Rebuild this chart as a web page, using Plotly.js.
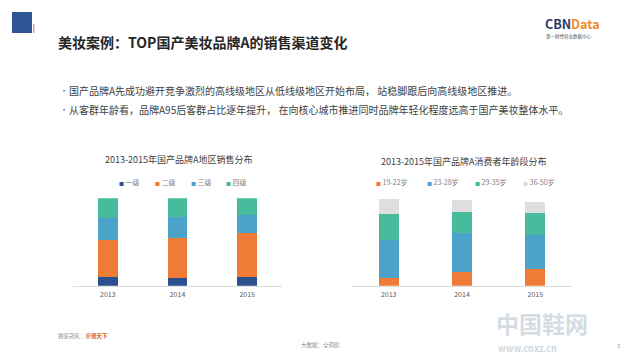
<!DOCTYPE html>
<html>
<head>
<meta charset="utf-8">
<script src="https://cdn.plot.ly/plotly-3.0.1.min.js"></script>
<style>
html,body{margin:0;padding:0;background:#fff;}
#chart{width:620px;height:359px;}
</style>
</head>
<body>
<div id="chart"></div>
<script>
// ---- data ----
const years = ['2013', '2014', '2015'];

const regionNames = ['一级', '二级', '三级', '四级'];
const regionTier1 = [10, 9.2, 9.5];
const regionTier2 = [42, 45.8, 51];
const regionTier3 = [25, 24, 20];
const regionTier4 = [23, 21, 19.5];

const ageNames = ['19-22岁', '23-28岁', '29-35岁', '36-50岁'];
const age19to22 = [8.4, 16, 19.1];
const age23to28 = [43.9, 43.9, 38.9];
const age29to35 = [29.8, 24.8, 25.6];
const age36to50 = [17.2, 13.4, 12.6];

const leftTitle = '2013-2015年国产品牌A地区销售分布';
const rightTitle = '2013-2015年国产品牌A消费者年龄段分布';
const pageTitle = '美妆案例：TOP国产美妆品牌A的销售渠道变化';
const bullets = [
  '国产品牌A先成功避开竞争激烈的高线级地区从低线级地区开始布局， 站稳脚跟后向高线级地区推进。',
  '从客群年龄看，品牌A95后客群占比逐年提升， 在向核心城市推进同时品牌年轻化程度远高于国产美妆整体水平。'
];

// ---- styles ----
const W = 620, H = 359;
const px = v => v / W;
const py = v => 1 - v / H;
const FONT = '"Noto Sans CJK SC", "Noto Sans", sans-serif';

const regionColors = ['#2c4f8e', '#ee7b36', '#4ba3c9', '#47bc9d'];
const ageColors = ['#ee7b36', '#4ba3c9', '#47bc9d', '#dedede'];

const regionSeries = [regionTier1, regionTier2, regionTier3, regionTier4];
const ageSeries = [age19to22, age23to28, age29to35, age36to50];

const traces = [];
regionSeries.forEach((vals, i) => {
  traces.push({
    type: 'bar', x: years, y: vals, name: regionNames[i],
    xaxis: 'x', yaxis: 'y', width: 0.285,
    marker: {color: regionColors[i], line: {width: 0}},
    showlegend: false, hoverinfo: 'skip'
  });
});
ageSeries.forEach((vals, i) => {
  traces.push({
    type: 'bar', x: years, y: vals, name: ageNames[i],
    xaxis: 'x2', yaxis: 'y2', width: 0.275,
    marker: {color: ageColors[i], line: {width: 0}},
    showlegend: false, hoverinfo: 'skip'
  });
});

const yDom = [py(285.7), py(198.3)];
const xAxisStyle = {
  type: 'category', showgrid: false, zeroline: false,
  showline: true, linecolor: '#dcdcdc', linewidth: 1,
  ticks: '', tickfont: {family: FONT, size: 7, color: '#595959'},
  ticklabelstandoff: 2,
  fixedrange: true
};
const yAxisStyle = {
  range: [0, 100], domain: yDom, visible: false, fixedrange: true
};

const annotations = [];
function txt(x, y, text, size, color, opts) {
  annotations.push(Object.assign({
    xref: 'paper', yref: 'paper', x: px(x), y: py(y), text: text,
    showarrow: false, xanchor: 'left', yanchor: 'middle',
    font: {family: FONT, size: size, color: color}, borderpad: 0
  }, opts || {}));
}

// page title & bullets
txt(57, 41.7, '<b>' + pageTitle + '</b>', 14, '#262626');
bullets.forEach((b, i) => {
  const y = [91, 109.3][i];
  txt(58.5, y, '•', 8, '#555555');
  txt(68, y, b, 10, '#404040');
});

// chart titles
txt(179, 160, leftTitle, 9, '#404040', {xanchor: 'center'});
txt(464, 161.7, rightTitle, 9, '#404040', {xanchor: 'center'});

// legends (built from names / colours)
const leftLegX = [118, 154, 189.5, 224.5];
regionNames.forEach((n, i) => {
  txt(leftLegX[i], 181.7,
    '<span style="font-size:5px;color:' + regionColors[i] + '">■</span> ' + n,
    7, '#7f7f7f');
});
const rightLegX = [374.5, 425.5, 473.5, 521.5];
ageNames.forEach((n, i) => {
  txt(rightLegX[i], 181.7,
    '<span style="font-size:5px;color:' + ageColors[i] + '">■</span> ' + n,
    7, '#7f7f7f');
});

// logo
txt(544, 24, '<b><span style="color:#2b3a6a">CBN</span><span style="color:#f08a24">Data</span></b>', 12.5, '#2b3a6a');
txt(545, 36, '第一财经商业数据中心', 4.5, '#555555');

// footer
txt(57, 336, '独家冠名：<span style="color:#d2691e"><b>@观天下</b></span>', 5.5, '#8a8a8a');
txt(320, 345, '大数据：全洞察', 5.5, '#8a8a8a', {xanchor: 'center'});
txt(616, 345, '3', 5, '#8a8a8a');

// watermark
txt(495, 323, '<b>中国鞋网</b>', 23, 'rgba(200,208,218,0.75)');
txt(497, 348.5, '<b>www.cnxz.cn</b>', 9, 'rgba(200,208,218,0.85)');

const shapes = [
  {type: 'rect', xref: 'paper', yref: 'paper', x0: px(12), x1: px(32), y0: py(33), y1: py(12),
   fillcolor: '#2f5597', line: {width: 0}},
  {type: 'rect', xref: 'paper', yref: 'paper', x0: px(33), x1: px(34.5), y0: py(33), y1: py(24),
   fillcolor: '#d6a3a3', line: {width: 0}}
];

const layout = {
  width: W, height: H,
  margin: {l: 0, r: 0, t: 0, b: 0},
  paper_bgcolor: '#ffffff', plot_bgcolor: 'rgba(0,0,0,0)',
  barmode: 'stack',
  showlegend: false,
  xaxis: Object.assign({}, xAxisStyle, {domain: [px(73), px(282)], anchor: 'y'}),
  yaxis: Object.assign({}, yAxisStyle, {anchor: 'x'}),
  xaxis2: Object.assign({}, xAxisStyle, {domain: [px(352), px(572)], anchor: 'y2'}),
  yaxis2: Object.assign({}, yAxisStyle, {anchor: 'x2'}),
  annotations: annotations,
  shapes: shapes,
  font: {family: FONT}
};

Plotly.newPlot('chart', traces, layout, {displayModeBar: false, staticPlot: true});
</script>
</body>
</html>
